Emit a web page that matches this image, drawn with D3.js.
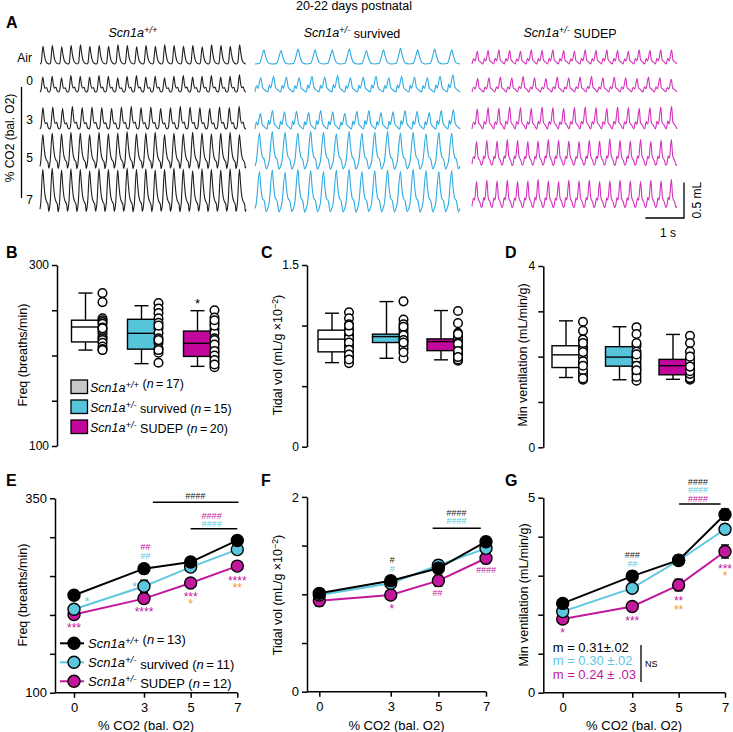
<!DOCTYPE html>
<html>
<head>
<meta charset="utf-8">
<script src="https://cdn.jsdelivr.net/npm/d3@7"></script>
<style>
  body { margin: 0; background: #fff; }
  svg { display: block; font-family: "Liberation Sans", Arial, sans-serif; }
</style>
</head>
<body>
<svg id="fig" width="733" height="732"></svg>
<script>
// ---------- data ----------
const groups = ["wt", "surv", "sudep"];
const co2Levels = [0, 3, 5, 7];
const traceRows = ["Air", "0", "3", "5", "7"];
const traceSeconds = 5.3;

// peak excursion (mL) of every breath in the plethysmography traces
const wtAir = [0.25,0.26,0.24,0.26,0.27,0.25,0.26,0.25,0.27,0.26,0.24,0.26,0.25,0.27,0.26,0.25,0.26,0.24,0.27,0.26,0.25,0.27];
const wt0 = [0.21,0.22,0.2,0.23,0.22,0.21,0.23,0.22,0.2,0.22,0.23,0.21,0.22,0.2,0.22,0.23,0.21,0.22,0.23,0.21,0.22,0.24];
const wt3 = [0.3,0.31,0.29,0.32,0.3,0.31,0.3,0.29,0.31,0.32,0.3,0.31,0.29,0.3,0.32,0.31,0.3,0.29,0.31,0.3,0.32];
const wt5 = [0.4,0.42,0.41,0.43,0.42,0.4,0.43,0.41,0.42,0.44,0.41,0.42,0.43,0.4,0.42,0.41,0.43,0.42,0.41,0.42,0.43,0.4];
const wt7 = [0.5,0.52,0.49,0.51,0.5,0.48,0.51,0.5,0.49,0.52,0.5,0.51,0.49,0.5,0.52,0.5,0.48,0.51,0.5,0.49,0.51,0.5];
const survAir = [0.2,0.19,0.21,0.2,0.2,0.21,0.19,0.2,0.22,0.2,0.21,0.2];
const surv0 = [0.2,0.22,0.21,0.2,0.22,0.21,0.23,0.2,0.21,0.22,0.2,0.22,0.21,0.2,0.22,0.24];
const surv3 = [0.22,0.26,0.24,0.25,0.23,0.26,0.24,0.22,0.25,0.26,0.23,0.24,0.26,0.25,0.23,0.26,0.27];
const surv5 = [0.42,0.44,0.43,0.42,0.44,0.43,0.41,0.44,0.42,0.43,0.44,0.42,0.43,0.41,0.43,0.42];
const surv7 = [0.47,0.49,0.46,0.5,0.48,0.47,0.49,0.5,0.47,0.48,0.49,0.47,0.5,0.48,0.47,0.48];
const sudepAir = [0.18,0.19,0.2,0.19,0.18,0.2,0.19,0.2,0.19,0.18,0.2,0.19,0.2,0.19,0.18,0.2,0.19,0.2,0.2];
const sudep0 = [0.19,0.2,0.21,0.2,0.22,0.2,0.19,0.21,0.2,0.21,0.22,0.2,0.21,0.2,0.19,0.21,0.2,0.18];
const sudep3 = [0.28,0.3,0.29,0.31,0.3,0.29,0.31,0.3,0.29,0.3,0.31,0.3,0.29,0.31,0.3,0.29,0.3,0.31,0.32];
const sudep5 = [0.3,0.32,0.31,0.33,0.32,0.3,0.31,0.33,0.32,0.31,0.3,0.32,0.31,0.34,0.32,0.31,0.33,0.3,0.32,0.33];
const sudep7 = [0.33,0.35,0.34,0.35,0.33,0.34,0.36,0.34,0.33,0.35,0.34,0.35,0.33,0.34,0.35,0.34,0.33,0.35,0.34,0.36];

// box plots: [min, q1, median, q3, max] and individual animals
const freqStats = [[206,215,231.5,239,269],[191,207,224.5,240,255],[188,199,213.5,227,249.5]];
const freqWt = [269,259,241,239,237,235,231,228,225,221,219,217,214,210,207,206,230];
const freqSurv = [258,252,247,241,236,230,225,219,214,208,203,192,233,217,206];
const freqSudep = [250,242,236,229,225,219,214,208,203,198,192,187,217,212,205,200,195,190,233,239];
const tvStats = [[0.694,0.783,0.888,0.962,1.102],[0.73,0.86,0.909,0.929,1.198],[0.717,0.793,0.868,0.89,1.124]];
const tvWt = [1.11,1.06,1.01,0.97,0.92,0.88,0.83,0.79,0.74,0.69,0.9,0.86,0.95,0.8,0.76,1.0,0.72];
const tvSurv = [1.2,1.05,1.01,0.97,0.94,0.9,0.87,0.84,0.81,0.73,0.99,0.92,0.88,0.86,0.78];
const tvSudep = [1.12,1.02,0.94,0.91,0.87,0.84,0.8,0.77,0.73,0.71,0.89,0.86,0.82,0.78,0.75,0.72,0.93,0.85,0.79,0.74];
const mvStats = [[1.54,1.76,2.04,2.24,2.79],[1.49,1.79,1.99,2.22,2.66],[1.5,1.6,1.8,1.94,2.49]];
const mvWt = [2.77,2.57,2.38,2.21,2.15,2.0,1.84,1.67,1.56,1.49,1.6,1.7,1.9,2.1,2.3,1.52,1.8];
const mvSurv = [2.65,2.5,2.24,2.11,2.0,1.87,1.74,1.63,1.47,1.95,2.05,1.8,1.55,2.3,1.7];
const mvSudep = [2.46,2.3,2.11,1.96,1.84,1.71,1.57,1.49,1.52,1.55,1.6,1.65,1.75,1.8,1.9,2.0,1.53,1.62,1.68,1.78];
const boxN = [17, 15, 20];

// CO2 response, mean and SEM at 0/3/5/7 %
const freqMeanWt = [225.3,259.5,268,295.8], freqSemWt = [4,4,4,4];
const freqMeanSurv = [207.3,236.8,261.5,284], freqSemSurv = [5,8,5,5];
const freqMeanSudep = [200.5,221,241,262.8], freqSemSudep = [5,5,5,5];
const tvMeanWt = [1.01,1.14,1.267,1.54], tvSemWt = [0.03,0.04,0.05,0.04];
const tvMeanSurv = [0.993,1.113,1.298,1.472], tvSemSurv = [0.03,0.04,0.05,0.05];
const tvMeanSudep = [0.934,0.993,1.14,1.37], tvSemSudep = [0.055,0.04,0.056,0.055];
const mvMeanWt = [2.29,2.99,3.40,4.57], mvSemWt = [0.1,0.12,0.12,0.14];
const mvMeanSurv = [2.08,2.68,3.39,4.19], mvSemSurv = [0.08,0.1,0.1,0.12];
const mvMeanSudep = [1.89,2.21,2.76,3.62], mvSemSudep = [0.08,0.1,0.15,0.17];
const lineN = [13, 11, 12];
const slopes = ["m = 0.31\u00b1.02", "m = 0.30 \u00b1.02", "m = 0.24 \u00b1 .03"];

// significance marks: [co2, value, text, colour]
const freqMarks = [[0.56,221,"*","surv"],[0,187,"***","sudep"],[2.6,240.6,"*","surv"],[3.05,287,"##","sudep"],
  [3.05,276.5,"##","surv"],[3,208.6,"****","sudep"],[5,227.8,"***","sudep"],[5,218.8,"*","orange"],
  [7,248.3,"****","sudep"],[7,239.4,"**","orange"],[5.2,353.5,"####","wt"],[5.9,327.8,"####","sudep"],[5.9,317.6,"####","surv"]];
const freqBars = [[3.38,7.05,344.9],[5,7,310.8]];
const tvMarks = [[3.05,1.352,"#","wt"],[3.05,1.26,"#","surv"],[3.05,0.88,"*","sudep"],[4.95,1.013,"##","sudep"],
  [7,1.25,"####","sudep"],[5.75,1.835,"####","wt"],[5.75,1.753,"####","surv"]];
const tvBars = [[4.76,6.78,1.678]];
const mvMarks = [[3,3.53,"###","wt"],[3,3.3,"##","surv"],[3,1.92,"***","sudep"],[0,1.61,"*","sudep"],
  [5,2.45,"**","sudep"],[5,2.22,"**","orange"],[7,3.27,"***","sudep"],[7,3.07,"*","orange"],
  [5.83,5.4,"####","wt"],[5.83,5.2,"####","surv"],[5.83,4.98,"####","sudep"]];
const mvBars = [[5.02,6.81,4.84]];

// ---------- styling ----------
const col = { wt: "#000", surv: "#5ec7e0", sudep: "#c3189d", orange: "#f29630" };
const boxFill = { wt: "#fff", surv: "#56c5dc", sudep: "#c4079c" };
const legendFill = { wt: "#c8c8c8", surv: "#56c5dc", sudep: "#c4079c" };
const traceCol = { wt: "#1e1e1e", surv: "#2eaae1", sudep: "#d52fbd" };
const genoSup = { wt: "+/+", surv: "+/-", sudep: "+/-" };
const genoRest = { wt: "", surv: " survived", sudep: " SUDEP" };

const svg = d3.select("#fig");

const addGeno = (txt, g, tail) => {
    txt.append("tspan").attr("font-style", "italic").text("Scn1a");
    txt.append("tspan").attr("font-style", "italic").attr("font-size", "0.75em").attr("dy", "-0.45em").text(genoSup[g]);
    txt.append("tspan").attr("dy", "0.45em").text(genoRest[g]);
    if (tail) {
        txt.append("tspan").text(" (");
        txt.append("tspan").attr("font-style", "italic").text("n");
        txt.append("tspan").text("\u2009=\u2009" + tail + ")");
    }
};

const panelLetter = (x, y, s) => svg.append("text").attr("x", x).attr("y", y)
    .attr("font-size", 16).attr("font-weight", "bold").text(s);

const yLabel = (x, yc, parts, size) => {
    const t = svg.append("text").attr("transform", `translate(${x},${yc}) rotate(-90)`)
        .attr("text-anchor", "middle").attr("font-size", size);
    parts.forEach(p => {
        const s = t.append("tspan").text(p.t);
        if (p.sup) s.attr("font-size", "0.7em").attr("dy", "-0.5em");
        if (p.down) s.attr("dy", "0.35em");
    });
};

// ---------- panel A: traces ----------
svg.append("text").attr("x", 354).attr("y", 10).attr("text-anchor", "middle")
    .attr("font-size", 12.5).text("20-22 days postnatal");
panelLetter(6, 28, "A");

const traceX = { wt: [40, 246], surv: [255, 460], sudep: [472, 677] };
const rowBase = { Air: 64, "0": 92, "3": 129, "5": 163, "7": 205 };
const traceData = {
    wt: [wtAir, wt0, wt3, wt5, wt7],
    surv: [survAir, surv0, surv3, surv5, surv7],
    sudep: [sudepAir, sudep0, sudep3, sudep5, sudep7]
};
// one breath cycle shape (time fraction, fraction of peak)
const templates = {
    wt: {
        air: [[0,0],[0.12,0.06],[0.32,1],[0.45,0.55],[0.58,0.22],[0.72,0.08],[0.88,0.02],[1,0]],
        low: [[0,0],[0.1,0.1],[0.3,1],[0.42,0.5],[0.55,0.25],[0.7,0.3],[0.85,0.05],[1,0]],
        deep: [[0,-0.12],[0.08,0.05],[0.3,1],[0.42,0.6],[0.55,0.25],[0.7,0.1],[0.85,0.02],[0.93,-0.18],[1,-0.12]]
    },
    surv: {
        air: [[0,0],[0.25,0.03],[0.42,0.6],[0.52,1],[0.62,0.55],[0.78,0.08],[1,0]],
        low: [[0,0],[0.12,0.45],[0.22,0.25],[0.45,1],[0.6,0.3],[0.8,0.12],[1,0]],
        deep: [[0,-0.1],[0.1,0.05],[0.35,1],[0.45,0.55],[0.58,0.2],[0.72,0.12],[0.88,-0.2],[1,-0.1]]
    },
    sudep: {
        air: [[0,0],[0.15,0.4],[0.28,0.22],[0.5,1],[0.62,0.3],[0.8,0.15],[1,0]],
        low: [[0,0],[0.15,0.35],[0.28,0.22],[0.5,1],[0.62,0.3],[0.8,0.18],[1,0]],
        deep: [[0,-0.05],[0.15,0.3],[0.25,0.2],[0.45,1],[0.58,0.3],[0.78,0.1],[0.9,-0.1],[1,-0.05]]
    }
};
const rowKind = ["air", "low", "low", "deep", "deep"];
const traceLine = d3.line().curve(d3.curveMonotoneX);

groups.forEach(g => {
    const [xa, xb] = traceX[g];
    const tScale = d3.scaleLinear().domain([0, traceSeconds]).range([xa, xb]);
    const head = svg.append("text").attr("x", g === "wt" ? 133 : (g === "surv" ? 352 : 570)).attr("y", 37)
        .attr("text-anchor", "middle").attr("font-size", 12.5);
    addGeno(head, g);
    traceRows.forEach((r, ri) => {
        const amps = traceData[g][ri];
        const period = traceSeconds / amps.length;
        const yv = d3.scaleLinear().domain([0, 0.5]).range([rowBase[r], rowBase[r] - 35.6]);
        const tpl = templates[g][rowKind[ri]];
        const pts = [];
        amps.forEach((a, i) => tpl.forEach(([u, v], j) => {
            if (i > 0 && j === 0) return;
            pts.push([tScale((i + u) * period), yv(a * v)]);
        }));
        svg.append("path").attr("d", traceLine(pts)).attr("fill", "none")
            .attr("stroke", traceCol[g]).attr("stroke-width", 1.1).attr("stroke-linejoin", "round");
    });
});

// row labels + CO2 bracket
const rowLabY = { Air: 62, "0": 85, "3": 124, "5": 162, "7": 204 };
traceRows.forEach(r => {
    svg.append("text").attr("x", r === "Air" ? 32 : 33).attr("y", rowLabY[r]).attr("text-anchor", "end")
        .attr("font-size", 12).text(r);
});
svg.append("line").attr("x1", 21.5).attr("x2", 21.5).attr("y1", 87).attr("y2", 198)
    .attr("stroke", "#000").attr("stroke-width", 1.3);
yLabel(14, 138, [{ t: "% CO2 (bal. O2)" }], 12);

// scale bar
{
    const tScale = d3.scaleLinear().domain([0, traceSeconds]).range(traceX.sudep);
    const yv = d3.scaleLinear().domain([0, 0.5]).range([218, 218 - 35.6]);
    const x1 = 684, x0 = x1 - (tScale(1) - tScale(0));
    svg.append("path").attr("d", `M${x0},${yv(0)}H${x1}V${yv(0.5)}`).attr("fill", "none")
        .attr("stroke", "#000").attr("stroke-width", 1.3);
    svg.append("text").attr("transform", `translate(701,${yv(0.25)}) rotate(-90)`)
        .attr("text-anchor", "middle").attr("font-size", 12).text("0.5 mL");
    svg.append("text").attr("x", 668).attr("y", 237).attr("text-anchor", "middle")
        .attr("font-size", 12).text("1 s");
}

// ---------- panels B-D: box plots ----------
const styleAxis = (sel, fs) => {
    sel.selectAll("path.domain").attr("stroke", "#000").attr("stroke-width", 1.5);
    sel.selectAll(".tick line").attr("stroke", "#000").attr("stroke-width", 1.5);
    sel.selectAll(".tick text").attr("fill", "#000").attr("font-size", fs)
        .attr("font-family", "Liberation Sans, Arial, sans-serif");
};

const boxPanel = cfg => {
    const y = d3.scaleLinear().domain(cfg.domain).range([cfg.yb, cfg.yt]);
    const x = d3.scalePoint().domain(groups).range(cfg.xr);
    const ax = svg.append("g").attr("transform", `translate(${cfg.ax},0)`)
        .call(d3.axisLeft(y).tickValues(cfg.ticks).tickSize(5).tickSizeOuter(0).tickPadding(3)
            .tickFormat(d => cfg.labels.includes(d) ? d : ""));
    styleAxis(ax, 12);
    const bw = 28, cap = 7;
    groups.forEach((g, i) => {
        const [mn, q1, md, q3, mx] = cfg.stats[i];
        const cx = x(g);
        const gg = svg.append("g").attr("stroke", "#000").attr("stroke-width", 1.4);
        gg.append("line").attr("x1", cx).attr("x2", cx).attr("y1", y(mx)).attr("y2", y(mn));
        gg.append("line").attr("x1", cx - cap).attr("x2", cx + cap).attr("y1", y(mx)).attr("y2", y(mx));
        gg.append("line").attr("x1", cx - cap).attr("x2", cx + cap).attr("y1", y(mn)).attr("y2", y(mn));
        gg.append("rect").attr("x", cx - bw / 2).attr("width", bw).attr("y", y(q3))
            .attr("height", y(q1) - y(q3)).attr("fill", boxFill[g]);
        gg.append("line").attr("x1", cx - bw / 2).attr("x2", cx + bw / 2).attr("y1", y(md)).attr("y2", y(md));
        gg.selectAll("circle").data(cfg.dots[i]).join("circle")
            .attr("cx", cx + 17).attr("cy", d => y(d)).attr("r", 4.3)
            .attr("fill", "#fff").attr("stroke-width", 1.5);
        if (cfg.star && cfg.star[i]) {
            svg.append("text").attr("x", cx).attr("y", y(mx) - 3).attr("text-anchor", "middle")
                .attr("font-size", 13).text(cfg.star[i]);
        }
    });
};

panelLetter(6, 258, "B");
boxPanel({ domain: [100, 300], yb: 446, yt: 265, ax: 57, xr: [85.5, 197.5],
    ticks: [100, 150, 200, 250, 300], labels: [100, 300],
    stats: freqStats, dots: [freqWt, freqSurv, freqSudep], star: [null, null, "*"] });
yLabel(27, 355, [{ t: "Freq (breaths/min)" }], 12.5);

// legend for B-D
groups.forEach((g, i) => {
    const yy = 387 + i * 20;
    svg.append("rect").attr("x", 71).attr("y", yy - 7).attr("width", 16.5).attr("height", 13.5)
        .attr("fill", legendFill[g]).attr("stroke", "#000").attr("stroke-width", 1.3);
    const t = svg.append("text").attr("x", 90).attr("y", yy + 5).attr("font-size", 12.5);
    addGeno(t, g, boxN[i]);
});

panelLetter(261, 258, "C");
boxPanel({ domain: [0, 1.5], yb: 446.7, yt: 265, ax: 307, xr: [332, 441],
    ticks: [0, 0.5, 1, 1.5], labels: [0, 1.5],
    stats: tvStats, dots: [tvWt, tvSurv, tvSudep] });
yLabel(282, 355, [{ t: "Tidal vol (mL/g \u00d710" }, { t: "\u22122", sup: true }, { t: ")", down: true }], 12.5);

panelLetter(505, 258, "D");
boxPanel({ domain: [0, 4], yb: 447.3, yt: 266, ax: 543.3, xr: [566, 673],
    ticks: [0, 1, 2, 3, 4], labels: [0, 4],
    stats: mvStats, dots: [mvWt, mvSurv, mvSudep] });
yLabel(527, 355, [{ t: "Min ventilation (mL/min/g)" }], 12.5);

// ---------- panels E-G: CO2 response ----------
const linePanel = cfg => {
    const x = d3.scaleLinear().domain([0, 7]).range(cfg.xr);
    const y = d3.scaleLinear().domain(cfg.domain).range([cfg.yb, cfg.yt]);
    const ay = svg.append("g").attr("transform", `translate(${cfg.ax},0)`)
        .call(d3.axisLeft(y).tickValues(cfg.ticks).tickSize(5).tickSizeOuter(0).tickPadding(3)
            .tickFormat(d => cfg.labels.includes(d) ? d : ""));
    styleAxis(ay, 13);
    const axx = svg.append("g").attr("transform", `translate(0,${cfg.yb})`)
        .call(d3.axisBottom(x).tickValues(co2Levels).tickSize(5).tickSizeOuter(0).tickPadding(5)
            .tickFormat(d3.format("d")));
    axx.select("path.domain").remove();
    styleAxis(axx, 13);
    svg.append("line").attr("x1", cfg.ax).attr("x2", x(7)).attr("y1", cfg.yb).attr("y2", cfg.yb)
        .attr("stroke", "#000").attr("stroke-width", 1.5);
    svg.append("text").attr("x", (cfg.ax + x(7)) / 2).attr("y", 730).attr("text-anchor", "middle")
        .attr("font-size", 13).text("% CO2 (bal. O2)");

    const line = d3.line().x((d, i) => x(co2Levels[i])).y(d => y(d));
    [2, 1, 0].forEach(i => {
        const g = groups[i], m = cfg.means[i], s = cfg.sems[i];
        const gg = svg.append("g");
        gg.append("path").attr("d", line(m)).attr("fill", "none").attr("stroke", col[g]).attr("stroke-width", 2);
        m.forEach((v, k) => {
            const cx = x(co2Levels[k]);
            gg.append("path").attr("d", `M${cx - 4},${y(v + s[k])}H${cx + 4}M${cx},${y(v + s[k])}V${y(v - s[k])}M${cx - 4},${y(v - s[k])}H${cx + 4}`)
                .attr("stroke", "#000").attr("stroke-width", 1.4).attr("fill", "none");
        });
        gg.selectAll("circle").data(m).join("circle")
            .attr("cx", (d, k) => x(co2Levels[k])).attr("cy", d => y(d)).attr("r", 6)
            .attr("fill", col[g]).attr("stroke", "#000").attr("stroke-width", 1.4);
    });

    cfg.marks.forEach(([c, v, t, k]) => {
        const hash = t[0] === "#";
        const fs = hash ? 9 : 12;
        svg.append("text").attr("x", x(c)).attr("y", y(v) + (hash ? 0.35 : 0.62) * fs)
            .attr("text-anchor", "middle").attr("font-size", fs)
            .attr("font-style", hash ? "italic" : null)
            .attr("fill", k === "wt" ? "#222" : col[k]).text(t);
    });
    cfg.bars.forEach(([a, b, v]) => {
        svg.append("line").attr("x1", x(a)).attr("x2", x(b)).attr("y1", y(v)).attr("y2", y(v))
            .attr("stroke", "#000").attr("stroke-width", 1.4);
    });
    return { x, y };
};

panelLetter(6, 486, "E");
linePanel({ domain: [100, 350], yb: 692.7, yt: 498.3, ax: 55, xr: [74, 237.3],
    ticks: [100, 150, 200, 250, 300, 350], labels: [100, 350],
    means: [freqMeanWt, freqMeanSurv, freqMeanSudep], sems: [freqSemWt, freqSemSurv, freqSemSudep],
    marks: freqMarks, bars: freqBars });
yLabel(27, 595, [{ t: "Freq (breaths/min)" }], 12.5);

groups.forEach((g, i) => {
    const yy = 643.3 + i * 19;
    svg.append("line").attr("x1", 60).attr("x2", 84).attr("y1", yy).attr("y2", yy)
        .attr("stroke", col[g]).attr("stroke-width", 2);
    svg.append("circle").attr("cx", 74).attr("cy", yy).attr("r", 6)
        .attr("fill", col[g]).attr("stroke", "#000").attr("stroke-width", 1.4);
    const t = svg.append("text").attr("x", 88).attr("y", yy + 5).attr("font-size", 13);
    addGeno(t, g, lineN[i]);
});

panelLetter(261, 486, "F");
linePanel({ domain: [0, 2], yb: 691.7, yt: 496.9, ax: 307, xr: [319.3, 486],
    ticks: [0, 0.5, 1, 1.5, 2], labels: [0, 2],
    means: [tvMeanWt, tvMeanSurv, tvMeanSudep], sems: [tvSemWt, tvSemSurv, tvSemSudep],
    marks: tvMarks, bars: tvBars });
yLabel(282, 595, [{ t: "Tidal vol (mL/g \u00d710" }, { t: "\u22122", sup: true }, { t: ")", down: true }], 12.5);

panelLetter(505, 486, "G");
linePanel({ domain: [0, 5], yb: 692.7, yt: 497.7, ax: 543.3, xr: [562.7, 725],
    ticks: [0, 1, 2, 3, 4, 5], labels: [0, 5],
    means: [mvMeanWt, mvMeanSurv, mvMeanSudep], sems: [mvSemWt, mvSemSurv, mvSemSudep],
    marks: mvMarks, bars: mvBars });
yLabel(528, 595, [{ t: "Min ventilation (mL/min/g)" }], 12.5);

slopes.forEach((s, i) => {
    svg.append("text").attr("x", 552.7).attr("y", 651.5 + i * 13.7).attr("font-size", 13)
        .attr("fill", groups[i] === "wt" ? "#000" : col[groups[i]]).text(s);
});
svg.append("line").attr("x1", 641).attr("x2", 641).attr("y1", 645).attr("y2", 682)
    .attr("stroke", "#000").attr("stroke-width", 1.3);
svg.append("text").attr("x", 645).attr("y", 667).attr("font-size", 9).text("NS");
</script>
</body>
</html>
